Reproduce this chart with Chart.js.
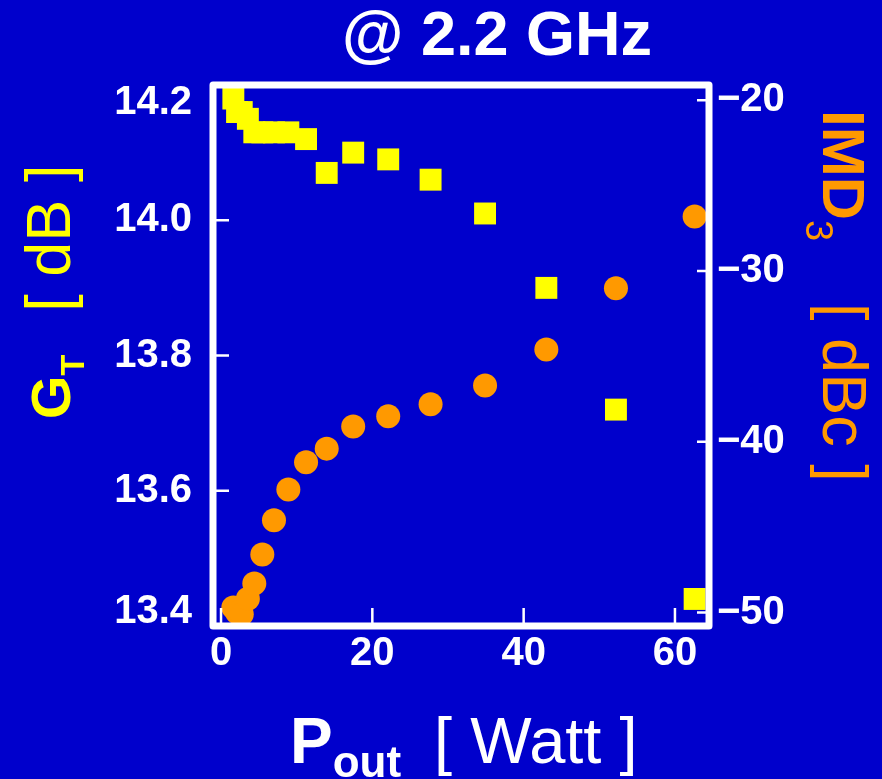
<!DOCTYPE html>
<html>
<head>
<meta charset="utf-8">
<script src="https://cdn.jsdelivr.net/npm/chart.js@4/dist/chart.umd.min.js"></script>
<style>
    body { margin: 0; background: #0000CC; }
    #wrap { width: 882px; height: 779px; }
</style>
</head>
<body>
<div id="wrap"><canvas id="gainChart" width="882" height="779"></canvas></div>
<script>
// Output power (W) and the two measured series
const pout = [1.63, 2.12, 2.74, 3.55, 4.4, 5.46, 7.0, 8.9, 11.24, 13.97, 17.47, 22.1, 27.7, 34.9, 43.0, 52.2, 62.6];
const gainT = [14.18, 14.16, 14.16, 14.15, 14.13, 14.13, 14.13, 14.13, 14.12, 14.07, 14.10, 14.09, 14.06, 14.01, 13.90, 13.72, 13.44];
const imd3 = [-49.7, -50.0, -50.1, -49.2, -48.3, -46.6, -44.6, -42.8, -41.2, -40.4, -39.1, -38.5, -37.8, -36.7, -34.6, -31.0, -26.8];

// Tick labels
const xTicks = [0, 20, 40, 60];
const gainTicks = [13.4, 13.6, 13.8, 14.0, 14.2];
const imdTicks = [-50, -40, -30, -20];

const BG = '#0000CC';
const YELLOW = '#FFFF00';
const ORANGE = '#FF9900';
const SANS = '"Liberation Sans", Arial, sans-serif';

// Draw a line of text made of parts (for subscripts), optionally rotated
function drawParts(ctx, parts, x, y, angle, color) {
    ctx.save();
    ctx.translate(x, y);
    ctx.rotate(angle);
    ctx.fillStyle = color;
    ctx.textAlign = 'left';
    ctx.textBaseline = 'alphabetic';
    let cx = 0;
    parts.forEach(p => {
        cx += p.before || 0;
        ctx.font = p.font;
        ctx.fillText(p.text, cx, p.dy || 0);
        cx += ctx.measureText(p.text).width;
    });
    ctx.restore();
}

// Frame, inner ticks and axis titles
const framePlugin = {
    id: 'frame',
    afterDraw(chart) {
        const ctx = chart.ctx;
        const a = chart.chartArea;
        const sx = chart.scales.x, sy = chart.scales.y, sy1 = chart.scales.y1;

        ctx.save();
        ctx.strokeStyle = '#FFFFFF';
        ctx.lineWidth = 2.5;
        ctx.beginPath();
        xTicks.forEach(v => {
            const px = sx.getPixelForValue(v);
            ctx.moveTo(px, a.bottom);
            ctx.lineTo(px, a.bottom - 18);
        });
        gainTicks.forEach(v => {
            const py = sy.getPixelForValue(v);
            ctx.moveTo(a.left, py);
            ctx.lineTo(a.left + 16, py);
        });
        imdTicks.forEach(v => {
            const py = sy1.getPixelForValue(v);
            ctx.moveTo(a.right, py);
            ctx.lineTo(a.right - 12, py);
        });
        ctx.stroke();

        ctx.lineWidth = 7;
        ctx.lineJoin = 'round';
        ctx.strokeRect(a.left, a.top, a.right - a.left, a.bottom - a.top);
        ctx.restore();

        // title
        ctx.save();
        ctx.font = 'bold 63px ' + SANS;
        ctx.fillStyle = '#FFFFFF';
        ctx.textAlign = 'center';
        ctx.textBaseline = 'alphabetic';
        ctx.fillText('@ 2.2 GHz', 497, 55);
        ctx.restore();

        // left axis title
        drawParts(ctx, [
            { text: 'G', font: 'bold 56px ' + SANS },
            { text: 'T', font: 'bold 34px ' + SANS, dy: 14 },
            { text: '[ dB ]', font: '63px ' + SANS, before: 43 }
        ], 70, 419, -Math.PI / 2, YELLOW);

        // right axis title
        drawParts(ctx, [
            { text: 'IMD', font: 'bold 60px ' + SANS },
            { text: '3', font: '38px ' + SANS, dy: 17 },
            { text: '[ dBc ]', font: '63px ' + SANS, before: 62 }
        ], 823, 110, Math.PI / 2, ORANGE);

        // bottom axis title
        drawParts(ctx, [
            { text: 'P', font: 'bold 64px ' + SANS },
            { text: 'out', font: 'bold 44px ' + SANS, dy: 14 },
            { text: '[ Watt ]', font: '65px ' + SANS, before: 33 }
        ], 290, 763, 0, '#FFFFFF');
    }
};

function initChart() {
    const ctx = document.getElementById('gainChart').getContext('2d');
    const tickFont = { family: SANS, size: 40, weight: 'bold' };

    new Chart(ctx, {
        type: 'scatter',
        data: {
            datasets: [
                {
                    label: 'G_T',
                    data: pout.map((p, i) => ({ x: p, y: gainT[i] })),
                    yAxisID: 'y',
                    pointStyle: 'rect',
                    pointRadius: 15.5,
                    backgroundColor: YELLOW,
                    borderWidth: 0,
                    clip: false
                },
                {
                    label: 'IMD3',
                    data: pout.map((p, i) => ({ x: p, y: imd3[i] })),
                    yAxisID: 'y1',
                    pointStyle: 'circle',
                    pointRadius: 12,
                    backgroundColor: ORANGE,
                    borderWidth: 0,
                    clip: false
                }
            ]
        },
        options: {
            responsive: false,
            animation: false,
            events: [],
            layout: { padding: { top: 85, left: 0, right: 0, bottom: 0 } },
            plugins: {
                legend: { display: false },
                tooltip: { enabled: false }
            },
            scales: {
                x: {
                    type: 'linear',
                    min: -1.06,
                    max: 64.5,
                    afterBuildTicks: s => { s.ticks = xTicks.map(v => ({ value: v })); },
                    afterFit: s => { s.height = 153; },
                    grid: { display: false, drawTicks: false, tickLength: 0 },
                    border: { display: false },
                    ticks: { color: '#FFFFFF', font: tickFont, padding: 4, maxRotation: 0 }
                },
                y: {
                    type: 'linear',
                    position: 'left',
                    min: 13.4,
                    max: 14.2,
                    afterBuildTicks: s => { s.ticks = gainTicks.map(v => ({ value: v })); },
                    afterFit: s => { s.width = 213; },
                    grid: { display: false, drawTicks: false, tickLength: 0 },
                    border: { display: false },
                    ticks: {
                        color: '#FFFFFF',
                        padding: 21,
                        // end labels sit inside the frame, as in the original
                        font: c => {
                            const n = gainTicks.length - 1;
                            if (c.index === n) return { ...tickFont, lineHeight: '36px' };
                            if (c.index === 0) return { ...tickFont, lineHeight: '28px' };
                            return tickFont;
                        },
                        callback: (v, i) => {
                            const s = v.toFixed(1);
                            if (i === gainTicks.length - 1) return ['', s];
                            if (i === 0) return [s, ''];
                            return s;
                        }
                    }
                },
                y1: {
                    type: 'linear',
                    position: 'right',
                    min: -50.79,
                    max: -19.1,
                    afterBuildTicks: s => { s.ticks = imdTicks.map(v => ({ value: v })); },
                    afterFit: s => { s.width = 173; },
                    grid: { display: false, drawTicks: false, tickLength: 0 },
                    border: { display: false },
                    ticks: {
                        color: '#FFFFFF',
                        font: tickFont,
                        padding: 8,
                        callback: v => '\u2212' + Math.abs(v)
                    }
                }
            }
        },
        plugins: [framePlugin]
    });
}

document.addEventListener('DOMContentLoaded', initChart);
</script>
</body>
</html>
